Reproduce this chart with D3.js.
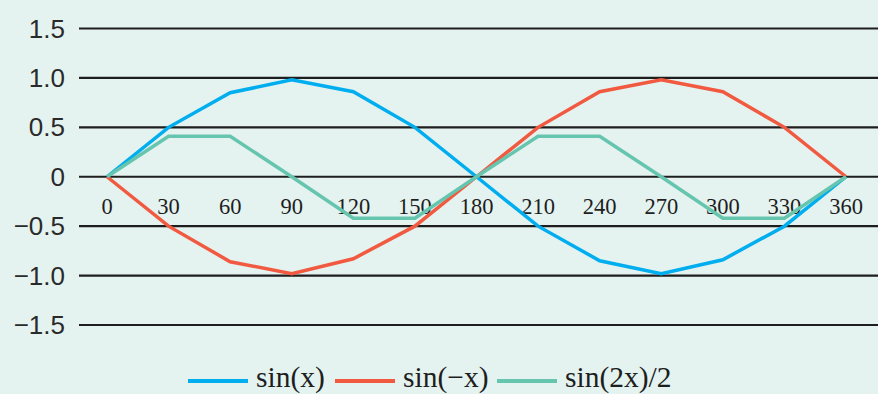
<!DOCTYPE html>
<html><head><meta charset="utf-8">
<script src="https://cdn.jsdelivr.net/npm/d3@7"></script>
<style>html,body{margin:0;padding:0;background:#e4f3f0;}svg{display:block;}</style>
</head><body>
<svg id="c" width="878" height="394"></svg>
<script>
const xCategories = [0,30,60,90,120,150,180,210,240,270,300,330,360];
const sinX = [0,0.5,0.85,0.98,0.86,0.5,0,-0.5,-0.85,-0.98,-0.84,-0.5,0];
const sinNegX = [0,-0.5,-0.86,-0.98,-0.83,-0.5,0,0.5,0.86,0.98,0.86,0.5,0];
const sin2XHalf = [0,0.41,0.41,0,-0.42,-0.42,0,0.41,0.41,0,-0.42,-0.42,0];
const yTicks = [1.5,1.0,0.5,0,-0.5,-1.0,-1.5];
const yTickLabels = ["1.5","1.0","0.5","0","\u22120.5","\u22121.0","\u22121.5"];
const seriesNames = ["sin(x)","sin(\u2212x)","sin(2x)/2"];
const colors = ["#00aeef","#f15a40","#66c5ae"];

const svg = d3.select("#c");
svg.append("rect").attr("width",878).attr("height",394).attr("fill","#e4f3f0");
const x = d3.scaleLinear().domain([0,360]).range([107,846]);
const y = d3.scaleLinear().domain([-1.5,1.5]).range([325,28.5]);

// grid
const grid = svg.append("g");
grid.selectAll("line").data(yTicks).enter().append("line")
  .attr("x1",79).attr("x2",878)
  .attr("y1",d=>y(d)).attr("y2",d=>y(d))
  .attr("stroke","#1e1e1e").attr("stroke-width",2.2);
grid.selectAll("text").data(yTicks).enter().append("text")
  .attr("x",65).attr("y",d=>y(d)+9)
  .attr("text-anchor","end")
  .attr("font-family","Liberation Sans, Arial, sans-serif")
  .attr("font-size",26).attr("fill","#2a2a2a")
  .text((d,i)=>yTickLabels[i]);

// x labels
svg.append("g").selectAll("text").data(xCategories).enter().append("text")
  .attr("x",d=>x(d)).attr("y",214)
  .attr("text-anchor","middle")
  .attr("font-family","Liberation Serif, Times New Roman, serif")
  .attr("font-size",22.5).attr("fill","#1e1e1e")
  .text(d=>d);

const series = [sinX, sinNegX, sin2XHalf];
const line = d3.line().x((d,i)=>x(xCategories[i])).y(d=>y(d));
series.forEach((s,k)=>{
  svg.append("path").datum(s).attr("d",line)
    .attr("fill","none").attr("stroke",colors[k]).attr("stroke-width",3.5)
    .attr("stroke-linejoin","miter");
});

// legend
const legendX = [188,335,497];
const lg = svg.append("g");
seriesNames.forEach((n,k)=>{
  lg.append("line").attr("x1",legendX[k]).attr("x2",legendX[k]+60)
    .attr("y1",381).attr("y2",381).attr("stroke",colors[k]).attr("stroke-width",4);
  lg.append("text").attr("x",legendX[k]+68).attr("y",387)
    .attr("font-family","Liberation Serif, Times New Roman, serif")
    .attr("font-size",29.5).attr("fill","#1e1e1e").text(n);
});
</script>
</body></html>
